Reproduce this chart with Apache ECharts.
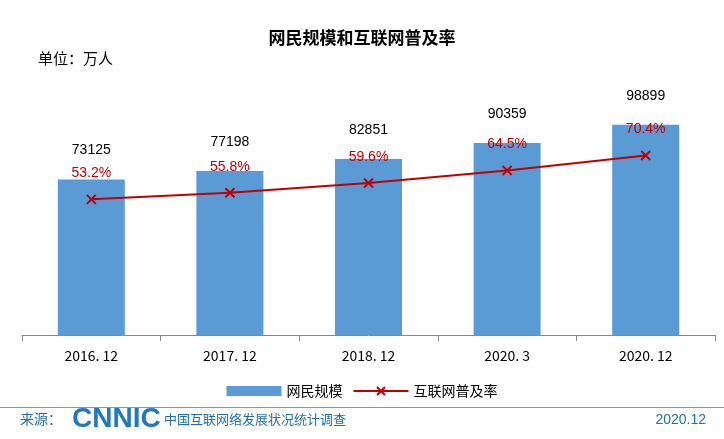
<!DOCTYPE html>
<html>
<head>
<meta charset="UTF-8">
<title>网民规模和互联网普及率</title>
<script src="https://cdn.jsdelivr.net/npm/echarts@6/dist/echarts.min.js"></script>
<style>body{margin:0;background:#fff}</style>
</head>
<body>
<div id="main" style="width:724px;height:439px;"></div>
<script>
var categories = ['2016. 12', '2017. 12', '2018. 12', '2020. 3', '2020. 12'];
var users = [73125, 77198, 82851, 90359, 98899];
var rate = [53.2, 55.8, 59.6, 64.5, 70.4];

var chart = echarts.init(document.getElementById('main'));
chart.setOption({
  backgroundColor: '#fff',
  animation: false,
  title: {
    text: '网民规模和互联网普及率', left: 'center', top: 24,
    textStyle: { fontSize: 17, fontWeight: 'bold', color: '#000', fontFamily: 'Noto Sans CJK SC' }
  },
  grid: { left: 22, right: 9, top: 80, bottom: 104 },
  legend: {
    bottom: 36, itemGap: 10, itemWidth: 55, itemHeight: 10,
    textStyle: { fontSize: 14, color: '#000', fontFamily: 'Noto Sans CJK SC' },
    data: [{ name: '网民规模', icon: 'rect' }, { name: '互联网普及率' }]
  },
  xAxis: {
    type: 'category', data: categories,
    axisLine: { lineStyle: { color: '#888' } },
    axisTick: { show: true, length: 6, lineStyle: { color: '#888' } },
    axisLabel: { fontSize: 14, color: '#000', margin: 14, fontFamily: 'Noto Sans CJK SC' }
  },
  yAxis: [
    { type: 'value', min: 0, max: 120000, show: false, splitLine: { show: false } },
    { type: 'value', min: 0, max: 100, show: false, splitLine: { show: false } }
  ],
  series: [
    {
      name: '网民规模', type: 'bar', data: users, barWidth: 67,
      itemStyle: { color: '#5b9bd5' },
      label: { show: true, position: 'top', distance: 22, fontSize: 14, color: '#000' }
    },
    {
      name: '互联网普及率', type: 'line', yAxisIndex: 1, data: rate,
      symbol: 'path://M0,0L10,10M10,0L0,10', symbolSize: 9,
      lineStyle: { color: '#c00000', width: 2 },
      itemStyle: { color: 'none', borderColor: '#c00000', borderWidth: 2 },
      label: { show: true, position: 'top', distance: 12, fontSize: 14, color: '#c00000', formatter: '{c}%' }
    }
  ],
  graphic: [
    { type: 'text', left: 38, top: 51, style: { text: '单位：万人', fontSize: 15, fill: '#000', fontFamily: 'Noto Sans CJK SC' } },
    { type: 'rect', shape: { x: 0, y: 407, width: 724, height: 1 }, style: { fill: '#7a9cb8' } },
    { type: 'text', left: 20, top: 412, style: { text: '来源：', fontSize: 14, fill: '#1f6fb2', fontFamily: 'Noto Sans CJK SC' } },
    { type: 'text', left: 72, top: 405, style: { text: 'CNNIC', fontSize: 28, fontWeight: 'bold', fill: '#1f78c1', fontFamily: 'Liberation Sans' } },
    { type: 'text', left: 164, top: 413, style: { text: '中国互联网络发展状况统计调查', fontSize: 13, fill: '#1f6fb2', fontFamily: 'Noto Sans CJK SC' } },
    { type: 'text', right: 18, top: 413, style: { text: '2020.12', fontSize: 14, fill: '#1f6fb2' } }
  ]
});
</script>
</body>
</html>
